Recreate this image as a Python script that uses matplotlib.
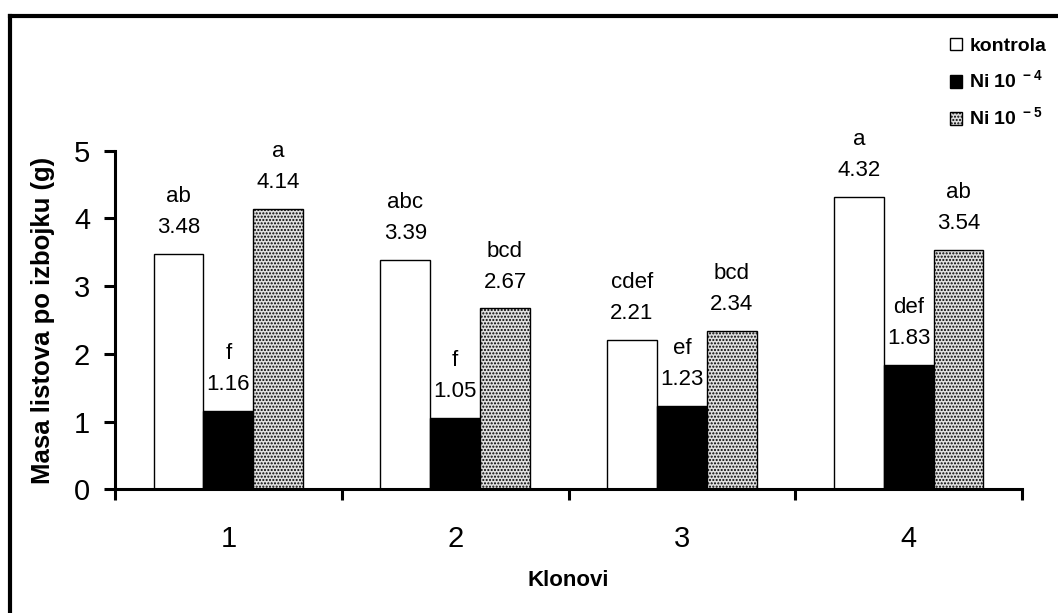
import matplotlib
matplotlib.use('Agg')
import matplotlib.pyplot as plt
import numpy as np
from matplotlib.lines import Line2D

plt.rcParams['font.family'] = ['Liberation Sans', 'DejaVu Sans']
plt.rcParams['mathtext.fontset'] = 'custom'
plt.rcParams['mathtext.rm'] = 'Liberation Sans'
plt.rcParams['mathtext.bf'] = 'Liberation Sans:bold'
plt.rcParams['hatch.color'] = '#555555'
plt.rcParams['hatch.linewidth'] = 1.0

# podaci: masa listova po izbojku (g) za 4 klona
klonovi = ['1', '2', '3', '4']
kontrola = [3.48, 3.39, 2.21, 4.32]
ni4 = [1.16, 1.05, 1.23, 1.83]
ni5 = [4.14, 2.67, 2.34, 3.54]
slova_kontrola = ['ab', 'abc', 'cdef', 'a']
slova_ni4 = ['f', 'f', 'ef', 'def']
slova_ni5 = ['a', 'bcd', 'bcd', 'ab']
nazivi = ['kontrola', r'Ni 10$^{\mathbf{\ -4}}$', r'Ni 10$^{\mathbf{\ -5}}$']

fig = plt.figure(figsize=(10.58, 6.13), dpi=100)
ax = fig.add_axes([0.1087, 0.2018, 0.8573, 0.5524])

x = np.arange(len(klonovi))
w = 0.22
serije = [
    (kontrola, slova_kontrola, dict(facecolor='white', edgecolor='black')),
    (ni4, slova_ni4, dict(facecolor='black', edgecolor='black')),
    (ni5, slova_ni5, dict(facecolor='#e0e0e0', edgecolor='black', hatch='.....')),
]
handles = []
for i, (vals, slova, st) in enumerate(serije):
    bars = ax.bar(x + (i - 1) * w, vals, w, linewidth=1.0, **st)
    handles.append(bars)
    for b, v, s in zip(bars, vals, slova):
        ax.annotate(f'{s}\n{v:.2f}', (b.get_x() + b.get_width() / 2, v),
                    xytext=(0, 11.5), textcoords='offset points',
                    ha='center', va='bottom', fontsize=16, linespacing=1.62)

ax.set_xlim(-0.5, 3.5)
ax.set_ylim(0, 5)
ax.set_yticks(range(6))
ax.set_xticks(x)
ax.set_xticklabels(klonovi)
ax.set_xticks(np.arange(-0.5, 4, 1), minor=True)
ax.tick_params(axis='x', which='major', length=0, pad=26, labelsize=21)
ax.tick_params(axis='x', which='minor', length=8, width=2.2, direction='out')
ax.tick_params(axis='y', length=8, width=2.2, direction='out', pad=10, labelsize=21)
for side in ['top', 'right']:
    ax.spines[side].set_visible(False)
for side in ['left', 'bottom']:
    ax.spines[side].set_linewidth(2.2)

ax.set_ylabel('Masa listova po izbojku (g)', fontsize=18.5, fontweight='bold', va='center')
ax.yaxis.set_label_coords(-0.079, 0.5)
ax.set_xlabel('Klonovi', fontsize=16, fontweight='bold', va='center')
ax.xaxis.set_label_coords(0.5, -0.268)

leg = fig.legend(handles, nazivi, loc='upper left', bbox_to_anchor=(950 / 1058, 1 - 38 / 613),
                 frameon=False, prop={'weight': 'bold', 'size': 14},
                 handlelength=0.6, handleheight=0.6, handletextpad=0.4,
                 labelspacing=0.75, borderpad=0, borderaxespad=0)

# okvir oko slike (gornja i lijeva ivica)
fig.add_artist(Line2D([9.5 / 1058, 9.5 / 1058], [0, 1 - 15.5 / 613], color='black', lw=3,
                      transform=fig.transFigure, solid_capstyle='projecting'))
fig.add_artist(Line2D([9.5 / 1058, 1], [1 - 15.5 / 613, 1 - 15.5 / 613], color='black', lw=3,
                      transform=fig.transFigure, solid_capstyle='projecting'))

fig.savefig('out.png', dpi=100)
